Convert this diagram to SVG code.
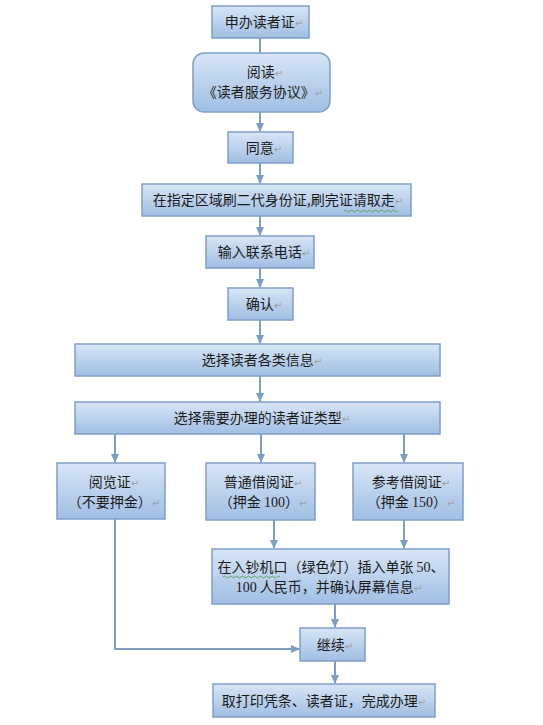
<svg xmlns="http://www.w3.org/2000/svg" width="543" height="725" viewBox="0 0 543 725">
<defs>
<linearGradient id="g" x1="0" y1="0" x2="0" y2="1">
<stop offset="0" stop-color="#d8e5f6"/>
<stop offset="1" stop-color="#a0bee3"/>
</linearGradient>
<marker id="ah" markerWidth="9" markerHeight="8" refX="8" refY="4" orient="auto" markerUnits="userSpaceOnUse">
<path d="M0,0 L9,4 L0,8 Z" fill="#7e9dc2"/>
</marker>
<style>
.b{fill:url(#g);stroke:#7f9ec6;stroke-width:1.5}
.t{font-family:"Noto Sans CJK SC","Liberation Sans",sans-serif;font-size:14px;fill:#1a1a1a;text-anchor:middle}
.n{font-family:"Liberation Serif",serif}
.p{font-family:"DejaVu Sans",sans-serif;font-size:10px;fill:#a0a0a0}
.c{fill:none;stroke:#7e9dc2;stroke-width:2}
.w{fill:none;stroke:#3c9a3c;stroke-width:0.8}
</style>
</defs>
<rect width="543" height="725" fill="#fff"/>
<g id="connectors">
<line class="c" x1="260" y1="38" x2="260" y2="53"/>
<line class="c" x1="260" y1="112" x2="260" y2="131" marker-end="url(#ah)"/>
<line class="c" x1="260" y1="163" x2="260" y2="183" marker-end="url(#ah)"/>
<line class="c" x1="260" y1="216" x2="260" y2="235" marker-end="url(#ah)"/>
<line class="c" x1="260" y1="268" x2="260" y2="287" marker-end="url(#ah)"/>
<line class="c" x1="260" y1="320" x2="260" y2="343" marker-end="url(#ah)"/>
<line class="c" x1="260" y1="376" x2="260" y2="401" marker-end="url(#ah)"/>
<line class="c" x1="115" y1="434" x2="115" y2="462" marker-end="url(#ah)"/>
<line class="c" x1="261" y1="434" x2="261" y2="462" marker-end="url(#ah)"/>
<line class="c" x1="404" y1="434" x2="404" y2="462" marker-end="url(#ah)"/>
<line class="c" x1="274" y1="520" x2="274" y2="548" marker-end="url(#ah)"/>
<line class="c" x1="404" y1="520" x2="404" y2="548" marker-end="url(#ah)"/>
<line class="c" x1="335" y1="604" x2="335" y2="627" marker-end="url(#ah)"/>
<path class="c" d="M115,519 V649 H299" marker-end="url(#ah)"/>
<line class="c" x1="335" y1="661" x2="335" y2="683" marker-end="url(#ah)"/>
</g>
<g id="n1">
<rect class="b" x="212" y="6" width="97" height="32"/>
<text class="t" x="264" y="27">申办读者证<tspan class="p">↵</tspan></text>
</g>
<g id="n2">
<rect class="b" x="193" y="53" width="137" height="59" rx="11"/>
<text class="t" x="265" y="77">阅读<tspan class="p">↵</tspan></text>
<text class="t" x="263" y="97">《读者服务协议》<tspan class="p">↵</tspan></text>
</g>
<g id="n3">
<rect class="b" x="228" y="132" width="65" height="31"/>
<text class="t" x="264" y="153">同意<tspan class="p">↵</tspan></text>
</g>
<g id="n4">
<rect class="b" x="142" y="184" width="269" height="32"/>
<text class="t" x="278" y="205">在指定区域刷二代身份证,刷完证请取走<tspan class="p">↵</tspan></text>
<path class="w" d="M344,211 q1.5,-2 3,0 t3,0 t3,0 t3,0 t3,0 t3,0 t3,0 t3,0 t3,0 t3,0 t3,0 t3,0 t3,0 t3,0 t3,0 t3,0 t3,0 t3,0"/>
</g>
<g id="n5">
<rect class="b" x="206" y="236" width="108" height="32"/>
<text class="t" x="264" y="257">输入联系电话<tspan class="p">↵</tspan></text>
</g>
<g id="n6">
<rect class="b" x="228" y="288" width="65" height="32"/>
<text class="t" x="264" y="309">确认<tspan class="p">↵</tspan></text>
</g>
<g id="n7">
<rect class="b" x="75" y="344" width="365" height="32"/>
<text class="t" x="262" y="365">选择读者各类信息<tspan class="p">↵</tspan></text>
</g>
<g id="n8">
<rect class="b" x="75" y="402" width="365" height="32"/>
<text class="t" x="262" y="423">选择需要办理的读者证类型<tspan class="p">↵</tspan></text>
</g>
<g id="n9">
<rect class="b" x="57" y="463" width="108" height="56"/>
<text class="t" x="114" y="487">阅览证<tspan class="p">↵</tspan></text>
<text class="t" x="114" y="507">（不要押金）<tspan class="p">↵</tspan></text>
</g>
<g id="n10">
<rect class="b" x="206" y="463" width="109" height="57"/>
<text class="t" x="263" y="487">普通借阅证<tspan class="p">↵</tspan></text>
<text class="t" x="263" y="507">（押金 <tspan class="n">100</tspan>）<tspan class="p">↵</tspan></text>
</g>
<g id="n11">
<rect class="b" x="353" y="463" width="110" height="57"/>
<text class="t" x="411" y="487">参考借阅证<tspan class="p">↵</tspan></text>
<text class="t" x="411" y="507">（押金 <tspan class="n">150</tspan>）<tspan class="p">↵</tspan></text>
</g>
<g id="n12">
<rect class="b" x="212" y="549" width="237" height="55"/>
<text class="t" x="331" y="572">在入钞机口（绿色灯）插入单张 <tspan class="n">50</tspan>、</text>
<text class="t" x="329" y="592"><tspan class="n">100</tspan> 人民币，并确认屏幕信息<tspan class="p">↵</tspan></text>
<path class="w" d="M223,577 q1.5,-2 3,0 t3,0 t3,0 t3,0 t3,0 t3,0 t3,0 t3,0 t3,0 t3,0 t3,0 t3,0 t3,0 t3,0 t3,0 t3,0 t3,0 t3,0 t3,0"/>
</g>
<g id="n13">
<rect class="b" x="300" y="628" width="65" height="33"/>
<text class="t" x="335" y="650">继续<tspan class="p">↵</tspan></text>
</g>
<g id="n14">
<rect class="b" x="213" y="684" width="222" height="33"/>
<text class="t" x="324" y="706">取打印凭条、读者证，完成办理<tspan class="p">↵</tspan></text>
</g>
</svg>
